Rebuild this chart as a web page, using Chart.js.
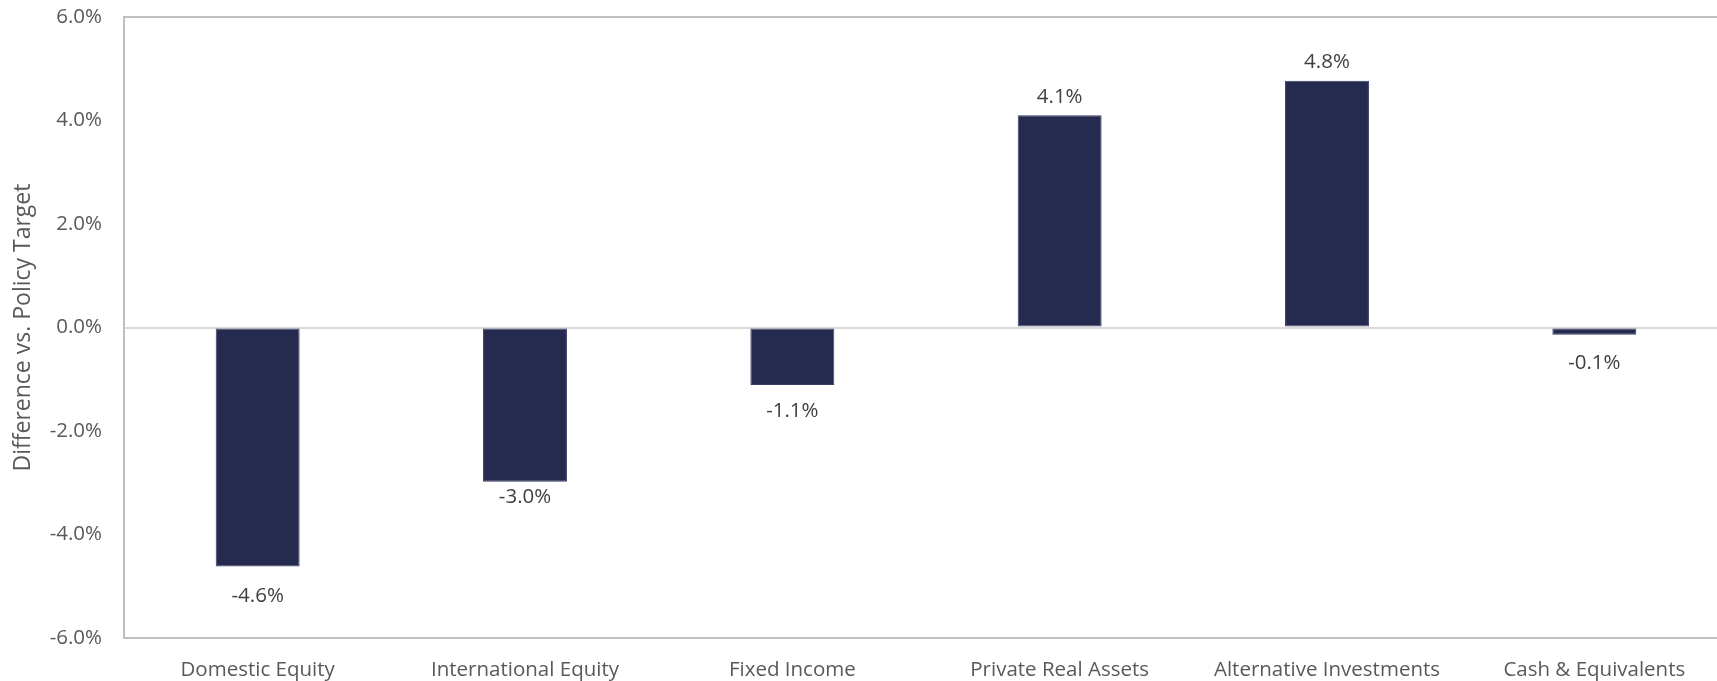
<!DOCTYPE html>
<html>
<head>
<meta charset="utf-8">
<script src="https://cdn.jsdelivr.net/npm/chart.js@4/dist/chart.umd.min.js"></script>
<style>
html,body{margin:0;padding:0;background:#fff;overflow:hidden;}
#wrap{position:relative;width:1730px;height:681px;}
</style>
</head>
<body>
<div id="wrap"><canvas id="c"></canvas></div>
<script>
const categories = ["Domestic Equity","International Equity","Fixed Income","Private Real Assets","Alternative Investments","Cash & Equivalents"];
const differences = [-4.62, -2.98, -1.11, 4.1, 4.77, -0.14];
const yTicks = [-6, -4, -2, 0, 2, 4, 6];
const yTitle = "Difference vs. Policy Target";

const FONT = "'Open Sans', 'Noto Sans', sans-serif";
const labelOffsets = [30, 15, 26, 18, 18, 28];

const valueLabels = {
  id: 'valueLabels',
  afterDatasetsDraw(chart) {
    const ctx = chart.ctx;
    const meta = chart.getDatasetMeta(0);
    ctx.save();
    ctx.font = "20.5px " + FONT;
    ctx.fillStyle = '#404040';
    ctx.textAlign = 'center';
    ctx.textBaseline = 'middle';
    meta.data.forEach((bar, i) => {
      const v = chart.data.datasets[0].data[i];
      const off = labelOffsets[i];
      const y = v >= 0 ? bar.y - off : bar.y + off;
      ctx.fillText(v.toFixed(1) + '%', bar.x, y);
    });
    ctx.restore();
  }
};

new Chart(document.getElementById('c'), {
  type: 'bar',
  data: {
    labels: categories,
    datasets: [{
      data: differences,
      backgroundColor: '#252a4f',
      borderColor: '#3a3f66',
      borderWidth: 1,
      borderSkipped: false,
      barPercentage: 0.314,
      categoryPercentage: 1.0
    }]
  },
  options: {
    responsive: true,
    maintainAspectRatio: false,
    animation: false,
    layout: { padding: { top: 17, right: 2, bottom: 0, left: 0 } },
    plugins: { legend: { display: false }, tooltip: { enabled: false } },
    scales: {
      x: {
        afterFit(scale) { scale.height = 43; scale.paddingLeft = 0; scale.paddingRight = 0; },
        grid: { display: false, drawTicks: false },
        border: { display: true, color: '#bfbfbf', width: 2 },
        ticks: { color: '#595959', font: { family: FONT, size: 20.5 }, padding: 20, maxRotation: 0, autoSkip: false }
      },
      y: {
        min: -6, max: 6,
        afterBuildTicks(scale) { scale.ticks = yTicks.map(v => ({ value: v })); },
        afterFit(scale) { scale.width = 124; scale.paddingTop = 0; scale.paddingBottom = 0; },
        grid: {
          drawTicks: false,
          lineWidth: 2,
          color: ctx => ctx.tick && ctx.tick.value === 0 ? '#d9d9d9' : (ctx.tick && ctx.tick.value === 6 ? '#bfbfbf' : 'rgba(0,0,0,0)')
        },
        border: { display: true, color: '#bfbfbf', width: 2 },
        ticks: {
          color: '#595959', font: { family: FONT, size: 20.5 }, padding: 22,
          callback: v => v.toFixed(1) + '%'
        },
        title: { display: true, text: yTitle, color: '#595959', font: { family: FONT, size: 23 }, padding: { top: 10, bottom: 0 } }
      }
    }
  },
  plugins: [valueLabels]
});
</script>
</body>
</html>
